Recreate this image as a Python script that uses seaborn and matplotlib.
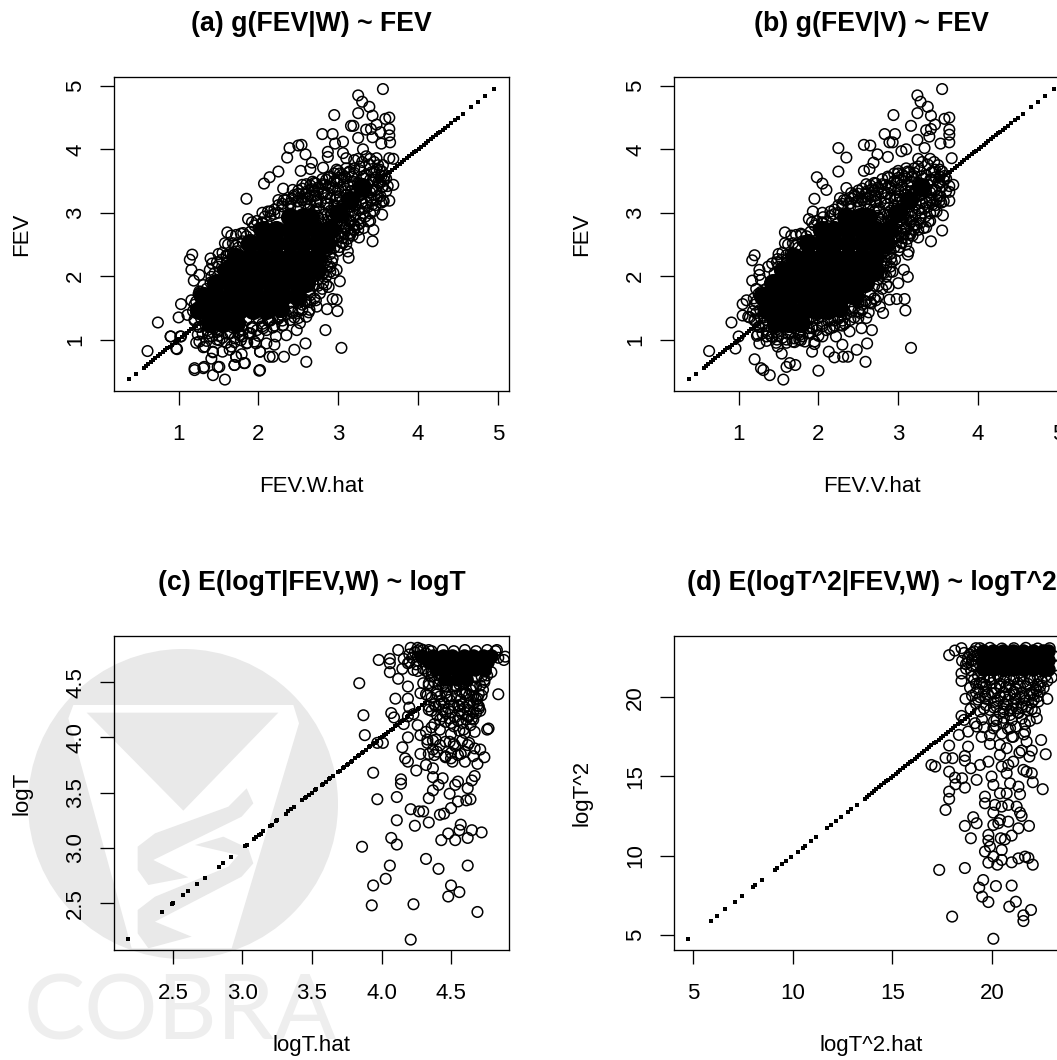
import matplotlib
matplotlib.use('Agg')
import matplotlib.pyplot as plt
import seaborn as sns
from matplotlib.patches import Circle, Polygon

# values; the *_core lists mark the solid black parts of each cloud
a_ring_x = [3.56,3.25,3.30,3.39,3.25,2.95,3.43,3.59,3.64,3.48,3.16,3.19,3.35,3.41,3.53,3.64,3.64,3.65,3.54,3.25,
            3.43,2.80,2.93,2.96,3.06,2.39,2.50,2.54,2.59,2.36,2.67,2.65,2.53,2.81,2.87,2.87,3.06,3.10,3.31,3.64,
            3.69,2.25,2.14,2.07,1.85,1.87,2.31,2.43,2.55,2.68,2.85,2.98,3.20,3.35,3.48,3.56,3.69,3.62,3.56,3.64,
            3.56,3.55,3.44,3.43,3.26,3.20,3.12,3.13,2.98,2.94,3.02,2.98,2.93,2.86,2.99,2.84,3.04,2.59,2.45,2.60,
            2.32,2.18,2.14,2.02,1.83,1.70,2.02,1.49,1.32,1.20,0.74,0.61,0.90,1.03,0.97,1.03,1.00,1.11,1.16,1.14,
            1.17,1.16,1.26,1.19,1.40,1.39,1.41,1.31,1.26,1.54,1.60,1.58,1.61,1.66,1.81,1.72,2.08,2.12,2.25,
            0.90,1.02,0.98,1.20,1.31,1.43,1.51,1.58,1.70,1.82,2.01,1.41,1.43,1.55,1.72,1.79,1.22,1.31,1.86,1.66,2.02,
            2.64,2.73,2.81,2.77,2.48,2.35,2.22,2.10,2.20,1.97,1.85,1.64,1.72,1.43,1.33,1.26,1.39,1.51,1.81,2.06,
            2.31,2.52,2.60,2.43,2.29,2.14,2.54,2.64,
            2.89,3.02,3.14,3.27,3.39,3.48,3.54,3.44,3.31,3.19,3.06,2.93,2.81,2.73,2.85,2.98,3.10,3.23,3.35,3.48,
            3.41,3.29,3.16,3.04,2.91,2.81,2.93,3.06,3.19,3.31,3.25,3.12,3.00,2.89,3.06,2.85,2.93,2.87,2.81]
a_ring_y = [4.95,4.85,4.75,4.67,4.57,4.54,4.53,4.48,4.50,4.39,4.37,4.37,4.31,4.32,4.27,4.32,4.22,4.11,4.09,4.18,
            4.19,4.24,4.24,4.09,4.12,4.02,4.06,4.07,3.92,3.87,3.79,3.69,3.66,3.71,3.96,3.88,3.94,3.86,4.00,3.86,
            3.85,3.65,3.56,3.46,3.22,2.90,3.38,3.36,3.44,3.49,3.52,3.68,3.83,3.89,3.86,3.75,3.44,3.42,3.41,3.19,
            3.19,2.97,2.73,2.55,2.61,2.73,2.39,2.29,2.10,2.05,1.92,1.63,1.64,1.48,1.45,1.15,0.87,0.94,0.84,0.65,
            0.73,0.73,0.73,0.81,0.63,0.60,0.52,0.57,0.57,0.55,1.27,0.82,1.05,1.05,0.86,1.56,1.35,1.39,1.62,2.26,
            2.34,2.10,2.02,1.93,2.28,2.10,1.99,1.86,1.76,2.26,2.31,2.52,2.69,2.64,2.68,2.39,2.94,3.02,3.20,
            1.05,1.05,0.85,0.52,0.55,0.44,0.57,0.37,0.60,0.63,0.51,0.70,0.80,0.81,0.73,0.77,0.95,0.88,0.95,0.89,0.81,
            1.47,1.52,1.89,1.73,1.15,1.07,1.05,0.94,0.92,0.94,0.94,0.84,0.73,0.81,0.89,0.97,1.05,0.99,1.15,1.18,
            1.23,1.26,1.36,1.42,1.39,1.31,1.63,1.78,
            3.57,3.62,3.65,3.73,3.76,3.68,3.57,3.52,3.57,3.49,3.44,3.39,3.31,3.18,3.15,3.23,3.28,3.33,3.39,3.36,
            3.20,3.15,3.10,3.05,2.97,2.89,2.78,2.89,2.94,2.99,2.81,2.73,2.63,2.57,2.52,2.39,2.28,2.15,2.05]
a_core_x = [2.39,2.56,2.64,
            2.06,2.22,2.39,2.56,2.73,
            1.89,2.06,2.22,2.39,2.56,2.73,
            1.72,1.89,2.06,2.22,2.39,2.56,2.73,
            1.60,1.76,1.93,2.10,2.27,2.43,2.60,2.73,
            1.47,1.64,1.81,1.97,2.14,2.31,2.48,2.60,
            1.31,1.47,1.64,1.81,1.97,2.14,2.31,2.48,
            1.26,1.43,1.60,1.76,1.93,2.10,2.27,
            1.39,1.56,1.72,
            2.85,2.90,3.00,3.15,3.30]
a_core_y = [2.94,2.94,2.94,
            2.73,2.73,2.73,2.73,2.73,
            2.52,2.52,2.52,2.52,2.52,2.52,
            2.31,2.31,2.31,2.31,2.31,2.31,2.31,
            2.10,2.10,2.10,2.10,2.10,2.10,2.10,2.10,
            1.89,1.89,1.89,1.89,1.89,1.89,1.89,1.89,
            1.68,1.68,1.68,1.68,1.68,1.68,1.68,1.68,
            1.47,1.47,1.47,1.47,1.47,1.47,1.50,
            1.26,1.26,1.26,
            2.50,2.75,3.00,3.20,3.40]
# extra rings around the black core, the cloud looks the same here in (a) and (b)
fev_fill_x = [1.20,1.22,1.20,1.25,1.30,1.30,1.25,1.35,1.40,1.38,1.32,1.36,1.42,1.48,1.55,1.60,1.65,1.70,1.75,1.80,
              1.88,1.92,1.98,2.05,2.10,2.15,2.20,2.25,2.30,2.35,2.40,2.45,2.50,2.55,2.60,2.65,2.70,2.70,2.75,2.80,
              2.85,2.90,2.85,2.90,2.95,3.00,3.05,3.10,3.15,3.15,3.20,
              1.45,1.50,1.55,1.60,1.65,1.70,1.75,1.80,1.85,1.90,1.95,2.00,2.05,2.10,2.15,2.20,2.25,2.30,2.35,2.40,
              2.45,2.50,2.55,2.60,2.65,2.70,2.75,2.80,2.90,2.95,3.00,3.05,3.10,3.20,3.25,3.30,3.40,3.45,3.50,3.55,
              2.95,3.08,3.20,3.35,3.45,3.58,2.72,2.80,2.95,3.10,3.25,3.40,3.50,3.60,2.55,2.65,2.75,2.88,3.00,3.15,
              3.30,3.42,3.55,2.45,2.60,2.72,2.87,3.02,3.16,3.28,3.40,3.50,2.50,2.62,2.78,2.90,3.05,3.20,3.35,3.48,
              3.57,2.50,2.65,2.72,2.95,3.08,3.22,3.37,3.47,2.70,2.82,2.97,3.12,3.26,3.40,2.75,2.88,3.00,3.14,3.28,
              3.38,2.72,2.85,2.98,3.10,3.20,3.32,2.80,2.92,3.04,3.15,3.25,2.78,2.88,3.00,3.12,2.80,2.90,3.02]
fev_fill_y = [1.55,1.42,1.30,1.20,1.10,1.65,1.72,1.80,1.90,1.55,1.35,1.15,1.05,1.12,1.03,0.95,1.10,1.02,1.12,1.05,
              1.10,1.20,1.15,1.25,1.15,1.30,1.22,1.35,1.30,1.40,1.50,1.35,1.45,1.55,1.60,1.70,1.65,1.85,1.95,1.80,
              2.00,2.15,2.25,2.35,2.45,2.40,2.60,2.50,2.65,2.85,2.80,
              2.05,2.15,2.10,2.20,2.35,2.30,2.45,2.55,2.50,2.70,2.80,2.75,2.85,2.85,2.95,3.05,3.00,3.10,3.20,3.15,
              3.25,3.30,3.20,3.30,3.25,3.35,3.40,3.45,3.40,3.50,3.55,3.60,3.70,3.70,3.85,3.80,3.85,3.80,3.75,3.65,
              3.62,3.57,3.63,3.59,3.64,3.58,3.46,3.53,3.49,3.54,3.47,3.52,3.48,3.54,3.38,3.43,3.37,3.42,3.36,3.44,
              3.39,3.35,3.41,3.28,3.33,3.27,3.31,3.26,3.34,3.29,3.32,3.27,3.18,3.22,3.17,3.23,3.19,3.24,3.16,3.21,
              3.18,3.08,3.12,3.06,3.11,3.07,3.13,3.09,3.12,3.02,2.97,3.03,2.98,3.04,2.99,2.92,2.87,2.93,2.88,2.91,
              2.86,2.82,2.77,2.83,2.78,2.81,2.76,2.72,2.67,2.71,2.68,2.73,2.62,2.58,2.63,2.59,2.47,2.43,2.46]
fev_more_x = [3.00,3.13,3.27,3.42,3.52,2.88,3.03,3.17,3.32,3.47,3.57,2.60,2.70,2.84,2.98,3.12,3.27,3.37,3.52,
              2.50,2.67,2.82,2.96,3.09,3.22,3.35,3.46,3.60,2.55,2.70,2.84,2.98,3.12,3.27,3.42,3.53,
              2.58,2.72,2.86,3.00,3.15,3.30,3.43,3.54,2.62,2.76,2.90,3.04,3.18,3.33,3.45,2.74,2.92,3.06,3.21,3.34,
              2.78,2.92,3.05,3.16,3.28,3.40,2.77,2.87,2.98,3.09,3.20,2.75,2.85,2.96,3.07,3.18,2.80,2.92,3.04,
              1.28,1.34,1.22,1.30,2.50,2.58,2.65,2.72,1.18,1.27,1.34,2.32,2.42,2.55,2.63,
              1.20,1.28,1.36,1.70,1.85,2.00,2.12,2.25,2.40,2.50,1.26,1.34,1.44,1.55,1.68,1.80,1.92,2.05,2.18,2.30,
              1.24,1.37,1.50,1.62,1.76,1.90,2.00,1.35,1.48,1.70,1.78,1.95,2.75,2.85,2.88,2.82,2.90,2.75,2.82,2.92,2.78,
              1.42,1.48,1.50,1.55,1.60,1.62,1.68,1.72,1.72,1.78,1.85,1.92,1.98,2.05,2.05,2.15,2.20,2.25,2.30,2.40,2.32,2.42,2.48]
fev_more_y = [3.66,3.63,3.67,3.64,3.68,3.55,3.52,3.57,3.54,3.56,3.52,3.45,3.47,3.44,3.47,3.43,3.46,3.44,3.47,
              3.35,3.37,3.33,3.36,3.34,3.37,3.33,3.36,3.34,3.25,3.27,3.23,3.26,3.24,3.27,3.23,3.26,
              3.15,3.17,3.13,3.16,3.14,3.17,3.13,3.16,3.05,3.07,3.03,3.06,3.04,3.07,3.03,2.95,2.97,2.93,2.96,2.94,
              2.85,2.87,2.83,2.86,2.84,2.87,2.75,2.77,2.73,2.76,2.74,2.65,2.67,2.63,2.66,2.64,2.55,2.57,2.53,
              1.75,1.73,1.60,1.62,1.58,1.61,1.59,1.62,1.45,1.47,1.43,1.46,1.44,1.47,1.43,
              1.32,1.34,1.30,1.33,1.31,1.34,1.30,1.33,1.31,1.34,1.20,1.22,1.18,1.21,1.19,1.22,1.18,1.21,1.19,1.22,
              1.08,1.10,1.06,1.09,1.07,1.10,1.06,0.98,1.00,0.96,0.99,0.97,1.85,1.87,1.83,2.05,2.07,2.03,2.20,2.22,2.18,
              2.20,2.22,2.35,2.37,2.33,2.50,2.52,2.48,2.65,2.67,2.63,2.85,2.87,2.83,3.00,3.02,2.98,3.12,3.14,3.10,3.20,3.22,3.18]
fev_diag = [0.38,0.46,0.56,0.59,0.62,0.65,0.68,0.71,0.74,0.77,0.80,0.83,0.86,0.89,0.92,0.95,0.98,1.01,1.04,1.07,
            1.10,1.13,1.16,1.19,1.22,1.25,1.28,3.50,3.53,3.56,3.59,3.62,3.65,3.68,3.71,3.74,3.77,3.80,3.83,3.86,
            3.89,3.92,3.95,3.98,4.01,4.04,4.07,4.10,4.13,4.16,4.19,4.22,4.25,4.28,4.31,4.34,4.37,4.41,4.46,4.50,
            4.56,4.67,4.75,4.84,4.95]

b_ring_x = [3.55,3.24,3.28,3.37,3.24,2.94,3.41,3.58,3.64,3.46,3.16,3.35,3.41,3.64,3.64,3.64,3.53,3.24,3.39,2.83,
            2.96,2.93,2.89,2.25,2.35,2.57,2.65,2.74,2.25,2.69,2.64,2.57,2.87,3.04,3.10,3.33,3.67,1.98,2.05,2.10,
            1.95,1.93,1.88,2.06,2.27,2.35,2.41,1.58,1.58,1.66,1.79,1.20,1.17,1.26,1.26,1.37,1.17,1.28,1.49,1.54,
            1.05,1.05,1.12,0.91,0.63,1.00,0.96,1.19,1.20,1.28,1.31,1.39,1.56,1.60,1.64,1.71,2.00,1.92,1.95,1.83,
            1.54,1.49,1.26,1.23,1.41,1.68,2.20,2.31,2.37,2.13,2.30,2.48,2.59,2.61,3.16,2.67,2.81,3.09,2.89,2.98,
            3.08,2.77,3.00,3.12,3.07,2.93,3.12,3.13,2.96,3.41,3.55,3.25,3.35,3.56,3.64,3.52,3.69,3.64,3.64,3.48,
            2.54,2.39,2.27,2.22,2.14,2.52,2.60,2.66,2.75,
            2.87,3.00,3.12,3.25,3.37,3.46,3.52,3.42,3.29,3.17,3.04,2.91,2.79,2.71,2.83,2.96,3.08,3.21,3.33,3.46,
            3.40,3.27,3.14,3.02,2.89,2.79,2.91,3.04,3.17,3.29,3.23,3.10,2.98,2.87,3.04,2.83,2.91,2.85,2.79,
            1.10,1.14,1.22,1.30,1.35,1.47,1.53,1.60,1.70,1.76,1.88,1.98,2.05,2.20,2.33,2.45]
b_ring_y = [4.95,4.85,4.75,4.67,4.57,4.54,4.53,4.48,4.50,4.39,4.37,4.30,4.32,4.31,4.23,4.11,4.09,4.15,4.20,4.24,
            4.24,4.11,4.11,4.02,3.87,4.07,4.06,3.92,3.65,3.79,3.69,3.66,3.88,3.97,4.00,4.02,3.86,3.56,3.46,3.36,
            3.22,3.02,2.90,2.93,3.23,3.39,3.31,2.69,2.52,2.64,2.65,2.33,2.25,2.10,2.02,2.15,1.93,1.94,2.27,2.26,
            1.56,1.38,1.36,1.27,0.82,1.05,0.86,1.65,0.69,0.55,0.52,0.44,0.37,0.57,0.63,0.60,0.51,0.81,0.93,0.97,
            0.78,0.89,0.94,1.06,1.05,0.97,0.72,0.73,0.73,0.81,0.92,0.84,0.65,0.94,0.87,1.15,1.42,1.46,1.63,1.64,
            1.64,1.52,1.89,1.99,2.10,2.07,2.34,2.39,2.26,2.55,2.72,2.61,2.77,2.96,3.19,3.19,3.44,3.42,3.33,3.02,
            1.18,1.13,1.23,1.05,1.18,1.42,1.34,1.57,1.68,
            3.57,3.62,3.65,3.73,3.76,3.68,3.57,3.52,3.57,3.49,3.44,3.39,3.31,3.18,3.15,3.23,3.28,3.33,3.39,3.36,
            3.20,3.15,3.10,3.05,2.97,2.89,2.78,2.89,2.94,2.99,2.81,2.73,2.63,2.57,2.52,2.39,2.28,2.15,2.05,
            1.62,1.35,1.80,1.25,1.05,0.95,1.30,1.00,1.20,1.00,1.18,1.22,1.05,1.30,1.25,1.50]
b_core_x = [2.35,2.52,2.62,
            2.04,2.20,2.37,2.54,2.71,
            1.87,2.04,2.20,2.37,2.54,2.71,
            1.70,1.87,2.04,2.20,2.37,2.54,2.71,
            1.56,1.72,1.89,2.06,2.23,2.39,2.56,2.71,
            1.43,1.60,1.77,1.93,2.10,2.27,2.44,2.58,
            1.31,1.47,1.64,1.81,1.97,2.14,2.29,2.46,
            1.35,1.50,1.66,1.82,1.97,2.12,2.26,
            1.47,1.62,1.78,
            2.83,2.88,2.98,3.13,3.28]
b_core_y = [2.94,2.94,2.94,
            2.73,2.73,2.73,2.73,2.73,
            2.52,2.52,2.52,2.52,2.52,2.52,
            2.31,2.31,2.31,2.31,2.31,2.31,2.31,
            2.10,2.10,2.10,2.10,2.10,2.10,2.10,2.10,
            1.89,1.89,1.89,1.89,1.89,1.89,1.89,1.89,
            1.68,1.68,1.68,1.68,1.68,1.68,1.68,1.68,
            1.47,1.47,1.47,1.47,1.47,1.47,1.50,
            1.26,1.26,1.26,
            2.50,2.75,3.00,3.20,3.40]

c_ring_x = [3.84,3.87,3.88,3.98,4.06,4.06,4.06,4.12,4.15,4.19,4.10,4.19,4.20,4.07,4.09,4.16,4.26,4.19,4.23,4.19,
            3.97,4.01,4.15,4.17,4.19,4.25,3.94,4.14,4.14,3.97,4.11,4.21,4.27,4.30,4.11,4.34,4.24,4.07,4.11,3.86,
            4.06,4.03,3.94,3.93,4.23,4.21,4.32,4.41,4.62,4.50,4.48,4.56,4.69,4.43,4.48,4.53,4.56,4.57,4.62,4.65,
            4.72,4.50,4.42,4.45,4.34,4.37,4.49,4.41,4.44,4.37,4.53,4.55,4.55,4.61,4.64,4.62,4.65,4.67,4.69,4.74,
            4.71,4.76,4.77,4.67,4.84,4.74,4.73,4.70,4.89,4.88,4.83,4.28,4.32,4.37,4.28,4.36,4.39,4.33,4.37,4.38,
            4.46,4.50,4.53,4.49,4.57,4.60,4.51,4.63,4.67,4.44,4.50,4.39,4.34,4.28,4.32,4.30,4.34,4.23,4.36,4.42,
            4.49,4.56,4.62,4.66,4.59,4.68,4.61,4.54,4.46,4.42,4.66,4.12,4.21,4.26,4.16,4.19,
            4.38,4.44,4.50,4.56,4.62,4.68,4.74,4.40,4.46,4.52,4.58,4.64,4.70,4.36,4.43,4.50,4.57,4.63,4.69,
            4.34,4.42,4.48,4.55,4.60,4.66,4.70,4.40,4.46,4.53,4.58,4.63,4.68,4.38,4.46,4.52,4.58,4.64,
            4.32,4.42,4.50,4.56,4.60,4.33,4.37,4.42,4.46,4.52,4.58,4.62,4.34,4.40,4.46,4.50,4.55,4.60,4.66,
            4.20,4.24,4.28,4.32,4.20,4.25,4.30,4.26,4.30,4.34,4.28,4.34,
            4.34,4.41,4.47,4.53,4.59,4.65,4.71,4.33,4.40,4.47,4.54,4.60,4.66,4.72,4.38,4.45,4.52,4.58,4.63,4.69,
            4.36,4.44,4.50,4.56,4.62,4.66,4.71,4.42,4.49,4.55,4.61,4.65,4.36,4.41,4.68,4.72,4.76,4.32,4.36,4.75,4.79,
            4.22,4.26,4.30,4.84,4.26,4.30,4.36,4.44,4.52,4.60,4.68,4.76,4.82]
c_ring_y = [4.49,4.20,4.02,4.70,4.71,4.67,4.59,4.53,4.62,4.46,4.35,4.35,4.27,4.22,4.18,4.12,4.11,4.19,4.21,4.00,
            3.95,3.95,3.91,3.81,3.78,3.70,3.68,3.62,3.58,3.44,3.46,3.35,3.33,3.33,3.25,3.23,3.20,3.09,3.03,3.01,
            2.84,2.72,2.66,2.48,2.49,2.17,2.90,2.81,2.84,2.66,2.56,2.60,2.42,3.07,3.13,3.07,3.16,3.21,3.09,3.16,
            3.14,3.36,3.30,3.31,3.45,3.52,3.49,3.57,3.63,3.64,3.57,3.60,3.42,3.43,3.44,3.54,3.61,3.65,3.76,3.82,
            3.89,4.07,4.08,4.05,4.39,4.52,4.43,4.28,4.73,4.70,4.79,3.85,3.75,3.72,4.02,4.09,3.98,3.98,3.89,3.84,
            3.82,3.81,3.92,3.96,3.85,3.78,3.78,3.95,3.90,4.19,4.13,4.28,4.25,4.40,4.39,4.49,4.49,4.61,4.59,4.52,
            4.34,4.28,4.19,4.16,4.07,4.34,4.40,4.46,4.46,4.37,4.46,4.79,4.81,4.81,4.71,4.67,
            4.50,4.47,4.52,4.48,4.51,4.46,4.50,4.42,4.40,4.44,4.41,4.43,4.39,4.36,4.33,4.37,4.34,4.38,4.35,
            4.28,4.30,4.26,4.29,4.27,4.30,4.26,4.20,4.22,4.18,4.21,4.19,4.22,4.12,4.14,4.10,4.13,4.11,
            4.05,4.07,4.03,4.06,4.04,3.95,3.97,3.93,3.96,3.94,3.97,3.93,3.85,3.87,3.83,3.86,3.84,3.87,3.83,
            4.75,4.77,4.73,4.76,4.68,4.66,4.69,4.60,4.62,4.58,4.80,4.79,
            4.47,4.48,4.46,4.47,4.48,4.46,4.47,4.38,4.39,4.37,4.38,4.39,4.37,4.38,4.30,4.31,4.29,4.30,4.31,4.29,
            4.24,4.25,4.23,4.24,4.25,4.23,4.24,4.16,4.17,4.15,4.16,4.17,4.55,4.56,4.54,4.55,4.56,4.60,4.61,4.60,4.59,
            4.72,4.73,4.71,4.72,4.78,4.79,4.78,4.79,4.78,4.79,4.78,4.79,4.78]
c_core_x = [4.29,4.37,4.44,4.51,4.59,4.66,4.73,4.79,
            4.34,4.41,4.48,4.55,4.62,4.69,4.76,
            4.39,4.46,4.53,4.60,4.67,4.74,
            4.46,4.54,4.61]
c_core_y = [4.74,4.74,4.74,4.74,4.74,4.74,4.74,4.74,
            4.68,4.68,4.68,4.68,4.68,4.68,4.68,
            4.62,4.62,4.62,4.62,4.62,4.62,
            4.53,4.53,4.53]
logt_diag = [2.18,2.42,2.49,2.50,2.57,2.61,2.67,2.73,2.83,2.86,2.92,3.02,3.03,3.08,3.10,3.12,3.13,3.15,3.20,3.21,
             3.24,3.25,3.31,3.33,3.35,3.37,3.43,3.45,3.46,3.48,3.50,3.52,3.53,3.57,3.58,3.60,3.62,3.63,3.65,3.69,
             3.70,3.72,3.73,3.75,3.76,3.78,3.79,3.81,3.83,3.84,3.86,3.87,3.89,3.91,3.92,3.94,3.95,3.97,3.99,4.00,
             4.02,4.03,4.05,4.07,4.08,4.10,4.11,4.13,4.15,4.16,4.18,4.19,4.21,4.23,4.24,4.26,4.27,4.29,4.31]

d_ring_x = [17.85,18.14,18.47,18.47,18.47,18.67,18.93,18.47,18.60,18.34,18.80,17.85,18.80,17.67,18.02,16.96,17.15,18.64,18.64,18.94,
            17.85,18.14,18.50,18.17,18.64,19.23,17.85,17.85,17.67,19.06,18.64,19.23,18.94,17.35,18.64,19.56,19.36,20.20,20.99,19.51,
            19.82,21.20,20.87,21.96,21.58,21.58,18.00,20.07,19.82,19.82,20.44,20.65,20.99,19.90,20.49,19.65,20.07,19.82,20.27,20.49,
            20.99,21.33,21.66,21.83,22.05,19.65,19.65,20.07,20.40,20.74,20.15,20.49,20.82,21.24,21.41,21.49,20.82,20.40,20.07,20.32,
            21.33,21.86,22.55,22.05,21.33,21.41,20.91,20.07,19.98,20.74,22.00,21.74,21.58,21.07,20.82,20.49,19.82,19.40,22.70,22.47,
            21.88,22.00,21.49,21.38,21.74,21.66,21.66,20.91,20.74,20.40,20.40,19.90,19.48,19.23,19.15,20.07,20.23,20.57,21.07,22.25,
            22.16,22.33,22.78,22.78,22.25,19.40,19.90,20.40,20.91,21.41,21.91,22.42,19.65,20.15,20.65,21.16,21.66,22.08,20.23,20.74,
            21.24,21.74,20.91,21.33,20.57,18.80,19.00,19.20,19.00,18.70,
            19.10,19.50,20.10,20.60,21.10,21.60,22.10,22.50,18.90,19.30,19.70,20.20,20.70,21.20,21.70,22.20,22.60,
            19.00,19.40,19.80,20.40,20.90,21.40,21.90,22.30,19.20,19.70,20.10,20.60,21.10,21.50,22.00,
            19.40,19.90,20.40,20.90,21.30,21.80,19.50,20.10,20.60,21.00,21.50,21.90,19.60,20.20,20.80,21.20,
            19.90,20.50,21.00,21.60,18.60,18.90,19.10,18.50,18.80,19.00,18.70,18.95,
            19.00,19.30,19.60,19.90,20.30,20.70,21.10,21.50,21.90,22.30,22.70,23.00,19.20,19.60,20.00,20.40,20.85,21.30,21.80,22.30,
            19.20,19.60,20.00,20.60,21.10,21.50,22.00,22.40,19.30,19.70,20.30,20.80,21.20,21.70,22.10,19.60,20.10,20.60,21.00,21.50,22.00,
            19.40,19.90,20.50,21.10,21.70,22.30,22.90,19.10,19.25,23.10,19.00,19.20,23.15]
d_ring_y = [22.66,22.95,23.10,21.50,21.03,19.90,19.26,18.82,18.57,17.62,17.83,16.95,16.88,16.17,16.15,15.72,15.62,16.29,16.00,15.51,
            15.30,14.92,14.88,14.50,14.29,14.78,14.04,13.58,12.88,12.42,11.87,12.04,11.09,9.09,9.21,8.45,7.97,8.07,8.10,7.40,
            7.06,7.08,6.77,6.56,6.22,5.86,6.14,4.74,11.30,10.94,11.09,11.02,11.26,10.56,10.35,10.25,9.93,9.55,9.42,9.72,
            9.57,9.82,9.93,9.85,9.42,13.72,13.30,12.71,13.93,13.93,13.20,13.09,13.20,13.09,12.71,12.50,12.14,12.25,11.93,12.04,
            11.72,11.87,14.19,14.63,14.35,13.87,14.56,14.46,14.99,15.20,15.20,15.30,15.41,15.93,15.72,15.62,15.93,15.72,16.40,17.30,
            16.25,16.63,16.63,16.50,17.20,17.83,18.30,18.04,16.78,16.99,16.36,17.05,17.50,18.15,18.36,18.04,18.57,18.36,17.50,18.67,
            19.10,19.73,19.90,21.03,20.40,20.89,21.10,20.68,21.10,20.68,21.10,20.68,20.04,20.25,20.04,20.15,19.94,20.15,19.41,19.52,
            19.31,19.41,18.88,19.00,19.10,22.50,22.80,23.10,22.30,22.10,
            21.10,20.90,21.20,21.00,21.15,20.95,21.10,21.00,20.60,20.50,20.70,20.55,20.65,20.50,20.70,20.55,20.60,
            20.10,20.00,20.20,20.05,20.15,20.00,20.20,20.05,19.60,19.50,19.70,19.55,19.65,19.50,19.65,
            19.10,19.20,19.00,19.15,19.05,19.20,18.60,18.50,18.70,18.55,18.65,18.50,18.10,18.20,18.00,18.15,
            17.60,17.70,17.50,17.65,22.80,22.70,22.90,22.30,22.20,22.40,21.80,21.70,
            21.30,21.35,21.25,21.30,21.35,21.25,21.30,21.35,21.25,21.30,21.35,21.25,20.85,20.80,20.90,20.85,20.80,20.90,20.85,20.80,
            20.30,20.35,20.25,20.30,20.35,20.25,20.30,20.35,19.85,19.90,19.80,19.85,19.90,19.80,19.85,19.30,19.35,19.25,19.30,19.35,19.25,
            23.10,23.12,23.08,23.10,23.12,23.08,23.10,22.60,22.65,22.60,22.00,22.05,22.00]
d_core_x = [19.53,20.07,20.57,21.07,21.58,22.08,22.58,22.84,
            19.53,20.07,20.57,21.07,21.58,22.08,22.58,22.84,
            19.53,20.07,20.57,21.07,21.58,22.08,22.58,22.84]
d_core_y = [22.95,22.95,22.95,22.95,22.95,22.95,22.95,22.95,
            22.36,22.36,22.36,22.36,22.36,22.36,22.36,22.36,
            21.77,21.77,21.77,21.77,21.77,21.77,21.77,21.77]
logt2_diag = [4.74,5.89,6.17,6.60,7.08,7.43,7.99,8.11,8.44,9.11,9.19,9.46,9.66,9.92,10.25,10.50,10.62,10.92,11.17,11.73,
              11.93,12.18,12.43,12.77,12.94,13.20,13.60,13.72,13.84,13.96,14.08,14.20,14.32,14.44,14.56,14.68,14.80,14.92,15.04,15.16,
              15.28,15.40,15.52,15.64,15.76,15.88,16.00,16.12,16.24,16.36,16.48,16.60,16.72,16.84,16.96,17.08,17.20,17.32,17.44,17.56,
              17.68,17.80,17.92,18.04,18.16,18.28,18.40,18.52,18.64,18.76,18.88,19.00,19.12]

titles = ['(a) g(FEV|W) ~ FEV', '(b) g(FEV|V) ~ FEV', '(c) E(logT|FEV,W) ~ logT', '(d) E(logT^2|FEV,W) ~ logT^2']
xlabels = ['FEV.W.hat', 'FEV.V.hat', 'logT.hat', 'logT^2.hat']
ylabels = ['FEV', 'FEV', 'logT', 'logT^2']
fev_ticks = [1, 2, 3, 4, 5]
logt_ticks = [2.5, 3.0, 3.5, 4.0, 4.5]
logt2_ticks = [5, 10, 15, 20]

W, H = 1057, 1060

sns.set_style('white')
plt.rcParams['font.family'] = ['Liberation Sans', 'DejaVu Sans']

fig = plt.figure(figsize=(W / 100, H / 100), dpi=100)


def axes_px(left, top, width, height):
    return fig.add_axes([left / W, 1 - (top + height) / H, width / W, height / H])


def draw_watermark():
    bg = fig.add_axes([0, 0, 1, 1], zorder=-1)
    bg.set_xlim(0, W)
    bg.set_ylim(H, 0)
    bg.axis('off')
    grey = '#e9e9e9'
    # logo outline, in pixels
    def zoomed(pts):
        return [(15 + x / 3, 640 + y / 3) for x, y in pts]
    bg.add_patch(Circle((183, 804), 155, color=grey, lw=0))
    bg.add_patch(Polygon(zoomed([(175, 195), (835, 195), (852, 250), (650, 925), (350, 925), (160, 235)]), color='white', lw=0))
    bg.add_patch(Polygon(zoomed([(215, 218), (790, 218), (505, 512)]), color=grey, lw=0))
    bg.add_patch(Polygon(zoomed([(695, 445), (715, 490), (680, 530), (415, 660), (520, 712), (400, 735), (368, 690), (368, 620),
                                 (420, 580), (640, 500)]), color=grey, lw=0))
    bg.add_patch(Polygon(zoomed([(540, 615), (625, 590), (700, 625), (715, 670), (680, 710), (420, 845), (530, 890), (400, 925),
                                 (368, 880), (368, 810), (420, 770), (640, 680), (670, 645)]), color=grey, lw=0))
    bg.text(180, 1014, 'COBRA', fontsize=66, family='Lato', color='#eeeeee', ha='center', va='center')


def panel(box, ring_x, ring_y, core_x, core_y, core_s, diag, lims, ticks, labels):
    ax = axes_px(*box)
    ax.patch.set_alpha(0)
    sns.scatterplot(x=diag, y=diag, marker='s', s=5.2, color='black', linewidth=0, ax=ax)
    sns.scatterplot(x=core_x, y=core_y, marker='o', s=core_s, color='black', linewidth=0, ax=ax)
    sns.scatterplot(x=ring_x, y=ring_y, marker='o', s=58, facecolor='none', edgecolor='black', linewidth=1.1, ax=ax)
    ax.set_xlim(lims)
    ax.set_ylim(lims)
    ax.set_xticks(ticks)
    ax.set_yticks(ticks)
    ax.tick_params(length=10, width=0.95, color='black', labelcolor='black', labelsize=16, left=True, bottom=True)
    ax.tick_params(axis='x', pad=14)
    ax.tick_params(axis='y', pad=10, labelrotation=90)
    for t in ax.get_yticklabels():
        t.set_va('center')
    for s in ax.spines.values():
        s.set_linewidth(0.95)
        s.set_color('black')
        s.set_visible(True)
    ax.set_xlabel(labels[0], fontsize=16, color='black')
    ax.set_ylabel(labels[1], fontsize=16, color='black')
    ax.xaxis.set_label_coords(0.5, -96 / 314)
    ax.yaxis.set_label_coords(-92 / 395, 0.5)
    ax.xaxis.label.set_va('center')
    ax.yaxis.label.set_va('center')
    ax.text(0.5, 1 + 53 / 314, labels[2], transform=ax.transAxes, fontsize=19.2, fontweight='bold',
            ha='center', va='center', color='black')
    return ax


draw_watermark()
panel((114, 77, 395, 314), a_ring_x + fev_fill_x + fev_more_x, a_ring_y + fev_fill_y + fev_more_y, a_core_x, a_core_y, 190, fev_diag,
      (0.19, 5.14), fev_ticks, (xlabels[0], ylabels[0], titles[0]))
panel((674, 77, 395, 314), b_ring_x + fev_fill_x + fev_more_x, b_ring_y + fev_fill_y + fev_more_y, b_core_x, b_core_y, 190, fev_diag,
      (0.19, 5.14), fev_ticks, (xlabels[1], ylabels[1], titles[1]))
panel((114, 636, 395, 314), c_ring_x, c_ring_y, c_core_x, c_core_y, 110, logt_diag, (2.076, 4.917), logt_ticks,
      (xlabels[2], ylabels[2], titles[2]))
panel((674, 636, 395, 314), d_ring_x, d_ring_y, d_core_x, d_core_y, 110, logt2_diag, (4.03, 23.87), logt2_ticks,
      (xlabels[3], ylabels[3], titles[3]))

fig.savefig('out.png', dpi=100)
